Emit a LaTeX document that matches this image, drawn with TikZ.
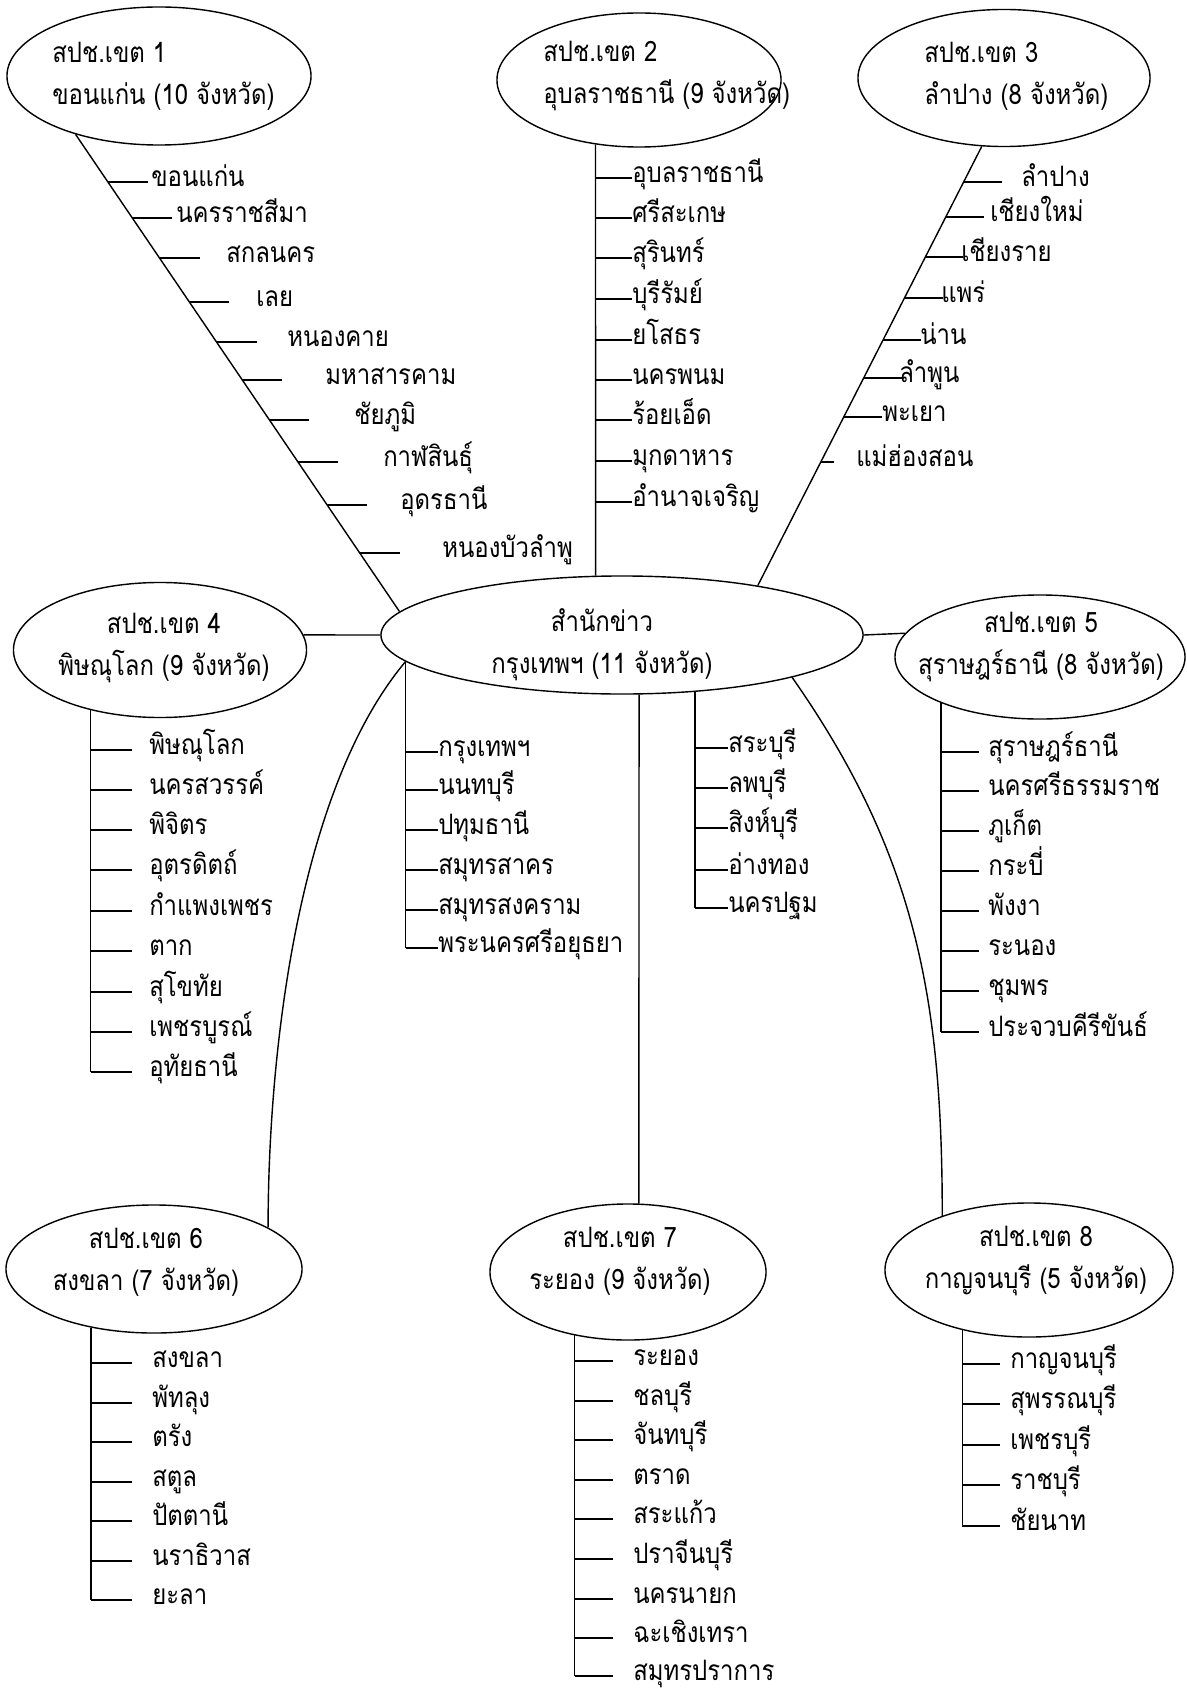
\documentclass[tikz,border=0pt]{standalone}
\usepackage{fontspec}
\newfontfamily\thai[Script=Thai,FakeStretch=0.85]{Loma}
\usetikzlibrary{shapes.geometric}
\begin{document}
\begin{tikzpicture}[x=0.025cm,y=-0.025cm]
	\tikzset{zone/.style = {shape=ellipse,draw,fill=white,inner sep=0pt,line width=1pt}}
	\tikzset{zonetext/.style = {font=\thai\fontsize{20}{30}\selectfont,inner sep=0pt}}
	\tikzset{prov/.style = {font=\thai\fontsize{20}{24}\selectfont,anchor=west,inner sep=0pt,text height=.85em,text depth=.2em}}
	\tikzset{link/.style = {draw,line width=1pt}}
	\useasboundingbox[fill=white] (0,0) rectangle (1186,1701);
	% ellipses
	\node[zone,minimum width=7.6cm,minimum height=3.45cm] (e1) at (159,76) {};
	\node[zone,minimum width=7.1cm,minimum height=3.35cm] (e2) at (639,80) {};
	\node[zone,minimum width=7.3cm,minimum height=3.425cm] (e3) at (1004,78) {};
	\node[zone,minimum width=12.05cm,minimum height=2.95cm] (hq) at (622,635) {};
	\node[zone,minimum width=7.325cm,minimum height=3.375cm] (e4) at (160,650) {};
	\node[zone,minimum width=7.25cm,minimum height=3.1cm] (e5) at (1040,657) {};
	\node[zone,minimum width=7.4cm,minimum height=3.2cm] (e6) at (154,1269) {};
	\node[zone,minimum width=6.9cm,minimum height=3.4cm] (e7) at (628,1272) {};
	\node[zone,minimum width=7.2cm,minimum height=3.35cm] (e8) at (1029,1270) {};
	% ellipse texts
	\node[zonetext,align=left,anchor=west] (e1t) at (52,76) {สปช.เขต 1\\ขอนแก่น (10 จังหวัด)};
	\node[zonetext,align=left,anchor=west] (e2t) at (543,76) {สปช.เขต 2\\อุบลราชธานี (9 จังหวัด)};
	\node[zonetext,align=left,anchor=west] (e3t) at (924,76) {สปช.เขต 3\\ลำปาง (8 จังหวัด)};
	\node[zonetext,align=center] (hqt) at (602,645) {สำนักข่าว\\กรุงเทพฯ (11 จังหวัด)};
	\node[zonetext,align=center] (e4t) at (164,648) {สปช.เขต 4\\พิษณุโลก (9 จังหวัด)};
	\node[zonetext,align=center] (e5t) at (1041,647) {สปช.เขต 5\\สุราษฎร์ธานี (8 จังหวัด)};
	\node[zonetext,align=center] (e6t) at (146,1262) {สปช.เขต 6\\สงขลา (7 จังหวัด)};
	\node[zonetext,align=center] (e7t) at (620,1261) {สปช.เขต 7\\ระยอง (9 จังหวัด)};
	\node[zonetext,align=center] (e8t) at (1036,1261) {สปช.เขต 8\\กาญจนบุรี (5 จังหวัด)};
	% links to the centre
	\draw[link] (e1.-145.6) -- (hq.174.1);
	\draw[link] (e2.-124.6) -- (hq.114.7);
	\draw[link] (e3.-108.1) -- (hq.20.3);
	\draw[link] (e4.6) -- (hq.west);
	\draw[link] (hq.east) -- (e5.170.8);
	\draw[link] (hq.-173.7) .. controls +(-109,130) and +(0,-170) .. (e6.20.5);
	\draw[link] (hq.-74.8) -- (e7.81.6);
	\draw[link] (hq.-14.3) .. controls +(124,177) and +(0,-216) .. (e8.148);
	% zone 1
	\foreach \t/\x/\y [count=\i] in {ขอนแก่น/151/182, นครราชสีมา/176/218, สกลนคร/226/258, เลย/256/302, หนองคาย/287/342, มหาสารคาม/325/380, ชัยภูมิ/354/420, กาฬสินธุ์/383/462, อุดรธานี/400/505, หนองบัวลำพู/442/553}{
		\node[prov] (k\i) at (\x,\y) {\t};
		\draw[link] (intersection cs:first line={(e1.-145.6)--(hq.174.1)},second line={(k\i.west)--(k\i.east)}) -- ++(40,0);
	}
	% zone 2
	\foreach \t/\y [count=\i] in {อุบลราชธานี/178, ศรีสะเกษ/218, สุรินทร์/258, บุรีรัมย์/299, ยโสธร/340, นครพนม/380, ร้อยเอ็ด/420, มุกดาหาร/461, อำนาจเจริญ/502}{
		\node[prov] (u\i) at (632,\y) {\t};
		\draw[link] (e2.-124.6 |- u\i.west) -- (u\i.west);
	}
	% zone 3
	\foreach \t/\x/\y/\l [count=\i] in {ลำปาง/1021/182/38, เชียงใหม่/990/217/38, เชียงราย/961/257/38, แพร่/941/298/38, น่าน/920/340/38, ลำพูน/899/378/38, พะเยา/882/417/38, แม่ฮ่องสอน/856/462/13}{
		\node[prov] (n\i) at (\x,\y) {\t};
		\draw[link] (intersection cs:first line={(e3.-108.1)--(hq.20.3)},second line={(n\i.west)--(n\i.east)}) -- ++(\l,0);
	}
	% centre, left column
	\foreach \t/\y [count=\i] in {กรุงเทพฯ/752, นนทบุรี/790, ปทุมธานี/830, สมุทรสาคร/870, สมุทรสงคราม/910, พระนครศรีอยุธยา/948}{
		\node[prov] (c\i) at (438,\y) {\t};
		\draw[link] (hq.-173.7 |- c\i.west) -- (c\i.west);
	}
	\draw[link] (hq.-173.7) -- (hq.-173.7 |- c6.west);
	% centre, right column
	\foreach \t/\y [count=\i] in {สระบุรี/748, ลพบุรี/788, สิงห์บุรี/828, อ่างทอง/870, นครปฐม/908}{
		\node[prov] (r\i) at (728,\y) {\t};
		\draw[link] (hq.-38.9 |- r\i.west) -- (r\i.west);
	}
	\draw[link] (hq.-38.9) -- (hq.-38.9 |- r5.west);
	% zone 4
	\foreach \t/\y [count=\i] in {พิษณุโลก/750, นครสวรรค์/790, พิจิตร/830, อุตรดิตถ์/870, กำแพงเพชร/911, ตาก/951, สุโขทัย/992, เพชรบูรณ์/1032, อุทัยธานี/1072}{
		\node[prov] (w\i) at (149,\y) {\t};
		\draw[link] (e4.-139.4 |- w\i.west) -- ++(41,0);
	}
	\draw[link] (e4.-139.4) -- (e4.-139.4 |- w9.west);
	% zone 5
	\foreach \t/\y [count=\i] in {สุราษฎร์ธานี/752, นครศรีธรรมราช/791, ภูเก็ต/831, กระบี่/871, พังงา/911, ระนอง/951, ชุมพร/991, ประจวบคีรีขันธ์/1032}{
		\node[prov] (s\i) at (988,\y) {\t};
		\draw[link] (e5.-155 |- s\i.west) -- ++(38,0);
	}
	\draw[link] (e5.-155) -- (e5.-155 |- s8.west);
	% zone 6
	\foreach \t/\y [count=\i] in {สงขลา/1363, พัทลุง/1403, ตรัง/1442, สตูล/1482, ปัตตานี/1521, นราธิวาส/1561, ยะลา/1600}{
		\node[prov] (g\i) at (152,\y) {\t};
		\draw[link] (e6.-137.4 |- g\i.west) -- ++(41,0);
	}
	\draw[link] (e6.-137.4) -- (e6.-137.4 |- g7.west);
	% zone 7
	\foreach \t/\y [count=\i] in {ระยอง/1361, ชลบุรี/1401, จันทบุรี/1440, ตราด/1480, สระแก้ว/1519, ปราจีนบุรี/1559, นครนายก/1599, ฉะเชิงเทรา/1638, สมุทรปราการ/1676}{
		\node[prov] (y\i) at (633,\y) {\t};
		\draw[link] (e7.-130.2 |- y\i.west) -- ++(38,0);
	}
	\draw[link] (e7.-130.2) -- (e7.-130.2 |- y9.west);
	% zone 8
	\foreach \t/\y [count=\i] in {กาญจนบุรี/1364, สุพรรณบุรี/1404, เพชรบุรี/1445, ราชบุรี/1485, ชัยนาท/1526}{
		\node[prov] (b\i) at (1010,\y) {\t};
		\draw[link] (e8.-138.5 |- b\i.west) -- ++(38,0);
	}
	\draw[link] (e8.-138.5) -- (e8.-138.5 |- b5.west);
\end{tikzpicture}
\end{document}
